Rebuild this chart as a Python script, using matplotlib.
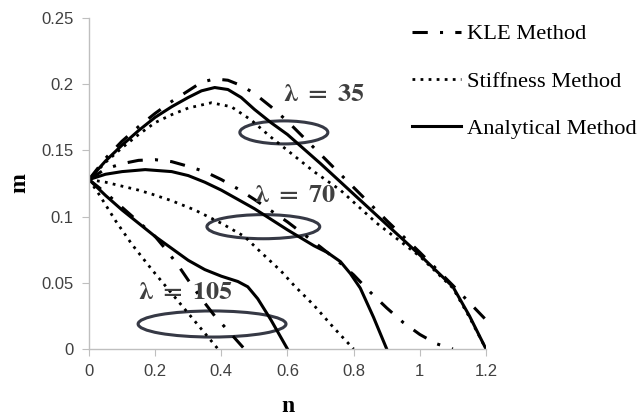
import matplotlib
matplotlib.use("Agg")
import matplotlib.pyplot as plt
from matplotlib.patches import Ellipse

plt.rcParams["mathtext.fontset"] = "stix"

# lambda = 35
n35_kle = [0, 0.05, 0.1, 0.15, 0.2, 0.25, 0.3, 0.34, 0.38, 0.42, 0.46, 0.5, 0.55, 0.6,
           0.7, 0.8, 0.9, 1.0, 1.1, 1.15, 1.2]
m35_kle = [0.128, 0.144, 0.157, 0.168, 0.178, 0.187, 0.195, 0.2015, 0.204, 0.203, 0.199,
           0.193, 0.183, 0.172, 0.147, 0.122, 0.097, 0.073, 0.048, 0.035, 0.022]
n35_stf = [0, 0.05, 0.1, 0.15, 0.2, 0.25, 0.3, 0.37, 0.43, 0.49, 0.55, 0.6, 0.68, 0.76,
           0.87, 1.0, 1.1, 1.15, 1.2]
m35_stf = [0.128, 0.141, 0.152, 0.162, 0.171, 0.177, 0.182, 0.186, 0.183, 0.173, 0.16,
           0.15, 0.134, 0.12, 0.095, 0.07, 0.046, 0.024, 0.0]
n35_ana = [0, 0.05, 0.1, 0.15, 0.2, 0.25, 0.3, 0.34, 0.38, 0.42, 0.46, 0.5, 0.55, 0.6,
           0.7, 0.8, 0.9, 1.0, 1.1, 1.15, 1.2]
m35_ana = [0.128, 0.142, 0.154, 0.165, 0.175, 0.183, 0.19, 0.195, 0.1975, 0.196, 0.19,
           0.181, 0.171, 0.162, 0.14, 0.117, 0.094, 0.071, 0.047, 0.025, 0.0]

# lambda = 70
n70_kle = [0, 0.05, 0.1, 0.15, 0.2, 0.25, 0.3, 0.35, 0.4, 0.45, 0.5, 0.6, 0.7, 0.75,
           0.8, 0.85, 0.9, 0.95, 1.0, 1.05, 1.1]
m70_kle = [0.128, 0.136, 0.14, 0.1425, 0.143, 0.1415, 0.138, 0.134, 0.128, 0.121, 0.113,
           0.096, 0.077, 0.067, 0.056, 0.043, 0.031, 0.02, 0.011, 0.004, 0.0]
n70_stf = [0, 0.05, 0.1, 0.15, 0.19, 0.25, 0.32, 0.4, 0.47, 0.52, 0.58, 0.62, 0.68,
           0.74, 0.8]
m70_stf = [0.128, 0.126, 0.123, 0.12, 0.117, 0.112, 0.105, 0.095, 0.085, 0.073, 0.059,
           0.048, 0.033, 0.016, 0.0]
n70_ana = [0, 0.05, 0.1, 0.17, 0.25, 0.3, 0.35, 0.4, 0.45, 0.5, 0.55, 0.6, 0.64, 0.68,
           0.72, 0.76, 0.79, 0.82, 0.86, 0.9]
m70_ana = [0.128, 0.132, 0.134, 0.1355, 0.134, 0.131, 0.126, 0.12, 0.113, 0.106, 0.098,
           0.09, 0.084, 0.078, 0.073, 0.066, 0.057, 0.046, 0.024, 0.0]

# lambda = 105
n105_kle = [0, 0.05, 0.1, 0.15, 0.2, 0.23, 0.27, 0.3, 0.34, 0.38, 0.42, 0.47]
m105_kle = [0.128, 0.118, 0.107, 0.096, 0.085, 0.076, 0.063, 0.052, 0.038, 0.025, 0.014,
            0.0]
n105_stf = [0, 0.03, 0.08, 0.13, 0.19, 0.25, 0.3, 0.35, 0.39]
m105_stf = [0.128, 0.117, 0.097, 0.079, 0.06, 0.042, 0.027, 0.012, 0.0]
n105_ana = [0, 0.05, 0.1, 0.15, 0.2, 0.25, 0.3, 0.35, 0.4, 0.45, 0.48, 0.51, 0.55, 0.6]
m105_ana = [0.128, 0.116, 0.105, 0.095, 0.085, 0.076, 0.067, 0.06, 0.055, 0.051, 0.047,
            0.038, 0.022, 0.0]

labels = ["KLE Method", "Stiffness Method", "Analytical Method"]
lam_values = [35, 70, 105]
lam_pos = [(0.586, 0.1924), (0.50, 0.1167), (0.148, 0.0432)]
ellipses = [(0.589, 0.1636, 0.266, 0.0174),
            (0.527, 0.0924, 0.341, 0.0182),
            (0.372, 0.0189, 0.447, 0.0197)]
xticks = [0, 0.2, 0.4, 0.6, 0.8, 1, 1.2]
yticks = [0, 0.05, 0.1, 0.15, 0.2, 0.25]

kle_style = dict(color="black", lw=2.2, linestyle=(0, (5, 4, 1, 4)))
stf_style = dict(color="black", lw=2.0, linestyle=(0, (1, 1.9)))
ana_style = dict(color="black", lw=2.2, linestyle="-")

fig = plt.figure(figsize=(6.41, 4.16), dpi=100)
ax = fig.add_axes([0.1388, 0.161, 0.6194, 0.7957])

ax.plot(n35_kle, m35_kle, label=labels[0], **kle_style)
ax.plot(n35_stf, m35_stf, label=labels[1], **stf_style)
ax.plot(n35_ana, m35_ana, label=labels[2], **ana_style)
ax.plot(n70_kle, m70_kle, **kle_style)
ax.plot(n70_stf, m70_stf, **stf_style)
ax.plot(n70_ana, m70_ana, **ana_style)
ax.plot(n105_kle, m105_kle, **kle_style)
ax.plot(n105_stf, m105_stf, **stf_style)
ax.plot(n105_ana, m105_ana, **ana_style)

for (cx, cy, w, h) in ellipses:
    ax.add_patch(Ellipse((cx, cy), w, h, fill=False, edgecolor="#363945", lw=2.2))

for lam, (tx, ty) in zip(lam_values, lam_pos):
    ax.text(tx, ty, r"$\boldsymbol{\lambda}\ \mathbf{=}\ \mathbf{%d}$" % lam,
            fontsize=19, color="#404040", va="center", ha="left")

ax.set_xlim(0, 1.2)
ax.set_ylim(0, 0.25)
ax.set_xticks(xticks)
ax.set_xticklabels([f"{t:g}" for t in xticks])
ax.set_yticks(yticks)
ax.set_yticklabels([f"{t:g}" for t in yticks])
for side in ["top", "right"]:
    ax.spines[side].set_visible(False)
for side in ["left", "bottom"]:
    ax.spines[side].set_color("#bfbfbf")
    ax.spines[side].set_linewidth(1.0)
ax.tick_params(direction="out", length=5, color="#bfbfbf", labelsize=12,
               labelcolor="#404040", pad=6)
for lbl in ax.get_xticklabels() + ax.get_yticklabels():
    lbl.set_family("Liberation Sans")

ax.set_xlabel("n", family="Liberation Serif", fontweight="bold", fontsize=17, labelpad=12)
ax.set_ylabel("m", family="Liberation Serif", fontweight="bold", fontsize=17, labelpad=8)

ax.legend(loc="upper left", bbox_to_anchor=(0.643, 0.943), bbox_transform=fig.transFigure,
          frameon=False, prop={"family": "Liberation Serif", "size": 16.2},
          handlelength=2.15, handletextpad=0.3, labelspacing=1.17,
          borderpad=0, borderaxespad=0)

fig.savefig("out.png", dpi=100)
